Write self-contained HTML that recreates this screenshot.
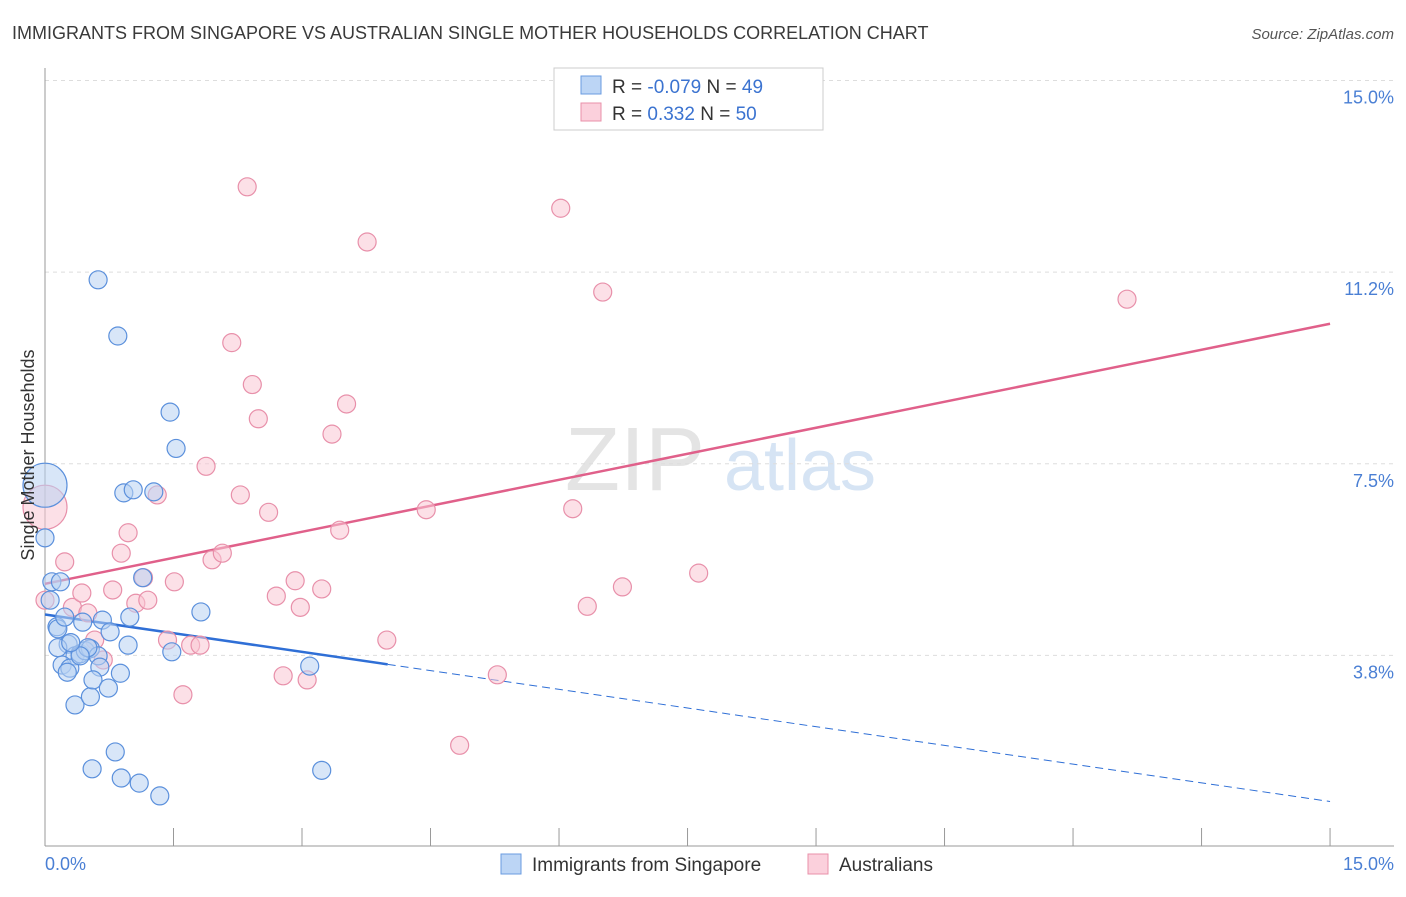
<!DOCTYPE html>
<html><head><meta charset="utf-8"><style>
body{margin:0;background:#fff;font-family:"Liberation Sans",sans-serif}
svg text{font-family:"Liberation Sans",sans-serif}
</style></head><body>
<svg width="1406" height="892">
<text x="12" y="39" font-size="18" fill="#3a3a3a">IMMIGRANTS FROM SINGAPORE VS AUSTRALIAN SINGLE MOTHER HOUSEHOLDS CORRELATION CHART</text>
<text x="1394" y="39" font-size="15" fill="#555" font-style="italic" text-anchor="end">Source: ZipAtlas.com</text>
<g><text x="635" y="490" font-size="90" fill="#e4e4e4" font-family="Liberation Serif" text-anchor="middle">ZIP</text><text x="800" y="490" font-size="72" fill="#d6e4f4" text-anchor="middle">atlas</text></g>
<g id="grid"></g><g id="axes"></g><g id="lines"></g><g id="pts"></g>
<text transform="translate(34,455) rotate(-90)" font-size="18" fill="#333" text-anchor="middle">Single Mother Households</text>
<text x="45" y="870" font-size="18" fill="#4a7fd4">0.0%</text>
<text x="1394" y="870" font-size="18" fill="#4a7fd4" text-anchor="end">15.0%</text>
<g>
<rect x="554" y="68" width="269" height="62" fill="#fff" stroke="#ccc"/>
<rect x="581" y="76" width="20" height="18" fill="#bcd5f5" stroke="#6a9be0"/>
<rect x="581" y="103" width="20" height="18" fill="#fbd0dc" stroke="#e890aa"/>
<text x="612" y="93" font-size="19" fill="#333">R = <tspan fill="#3b73d0">-0.079</tspan>   N = <tspan fill="#3b73d0">49</tspan></text>
<text x="612" y="120" font-size="19" fill="#333">R =   <tspan fill="#3b73d0">0.332</tspan>   N = <tspan fill="#3b73d0">50</tspan></text>
</g>
<g>
<rect x="501" y="854" width="20" height="20" fill="#bcd5f5" stroke="#6a9be0"/>
<text x="532" y="871" font-size="19" fill="#333">Immigrants from Singapore</text>
<rect x="808" y="854" width="20" height="20" fill="#fbd0dc" stroke="#e890aa"/>
<text x="839" y="871" font-size="19" fill="#333">Australians</text>
</g>
</svg>
<script>
const yTicks=[3.75,7.5,11.25,15];
const yTickLabels=["3.8%","7.5%","11.2%","15.0%"];
const blueX=[0,0,0.08,0.18,0.06,0.14,0.15,0.23,0.27,0.35,0.41,0.47,0.53,0.2,0.29,0.26,0.62,0.64,0.44,0.67,0.76,0.97,0.35,0.53,0.56,0.74,0.88,0.99,1.14,1.46,1.53,0.62,0.85,0.92,1.03,1.27,1.82,1.48,3.09,3.23,0.55,0.82,0.89,1.1,1.34,0.5,0.41,0.15,0.3];
const blueY=[7.08,6.05,5.19,5.19,4.83,4.31,4.27,4.5,3.97,3.74,3.78,3.84,3.88,3.56,3.5,3.42,3.74,3.52,4.4,4.44,4.21,3.95,2.78,2.94,3.27,3.11,3.4,4.5,5.27,8.51,7.8,11.1,10.0,6.93,6.99,6.95,4.6,3.82,3.54,1.5,1.53,1.86,1.35,1.25,1.0,3.9,3.74,3.9,4.0];
const blueR=[22,9,9,9,9,9,9,9,9,9,9,9,9,9,9,9,9,9,9,9,9,9,9,9,9,9,9,9,9,9,9,9,9,9,9,9,9,9,9,9,9,9,9,9,9,9,9,9,9];
const pinkX=[0,0,0.23,0.32,0.43,0.5,0.58,0.68,0.79,0.89,0.97,1.06,1.2,1.15,1.31,1.43,1.51,1.61,1.7,1.81,1.88,1.95,2.07,2.18,2.28,2.36,2.42,2.49,2.61,2.7,2.78,2.92,2.98,3.06,3.23,3.35,3.44,3.52,3.76,3.99,4.45,4.84,5.28,6.02,6.16,6.33,6.51,6.74,7.63,12.63];
const pinkY=[6.65,4.83,5.58,4.69,4.97,4.58,4.05,3.66,5.03,5.75,6.15,4.77,4.83,5.27,6.89,4.05,5.19,2.98,3.95,3.95,7.45,5.62,5.75,9.87,6.89,12.92,9.05,8.38,6.55,4.91,3.35,5.21,4.69,3.27,5.05,8.08,6.2,8.67,11.84,4.05,6.6,1.99,3.37,12.5,6.62,4.71,10.86,5.09,5.36,10.72];
const pinkR=[22,9,9,9,9,9,9,9,9,9,9,9,9,9,9,9,9,9,9,9,9,9,9,9,9,9,9,9,9,9,9,9,9,9,9,9,9,9,9,9,9,9,9,9,9,9,9,9,9,9];
const pinkTrend=[5.15,10.24];
const blueTrend=[4.55,0.89];
const blueSolidEnd=4.0;
const X=v=>45+v*85.67, Y=v=>847-v*51.1;
const NS="http://www.w3.org/2000/svg";
function mk(p,t,a){const e=document.createElementNS(NS,t);for(const k in a)e.setAttribute(k,a[k]);document.getElementById(p).appendChild(e);return e;}
yTicks.forEach((t,i)=>{
 let l=mk('grid','line',{x1:45,x2:1394,y1:Y(t),y2:Y(t),stroke:'#ddd','stroke-dasharray':'4,4'});
 
 
 let tx=mk('grid','text',{x:1394,y:Y(t)+23,'font-size':18,fill:'#4a7fd4','text-anchor':'end'});tx.textContent=yTickLabels[i];
 
 
});
let ax=mk('axes','line',{x1:45,x2:45,y1:68,y2:846,stroke:'#999'});


let bx=mk('axes','line',{x1:45,x2:1394,y1:846,y2:846,stroke:'#999'});


for(let i=0;i<=10;i++){let t=mk('axes','line',{x1:X(i*1.5),x2:X(i*1.5),y1:828,y2:846,stroke:'#999'});
 
 }
function draw(xs,ys,rs,fill,stroke,name){xs.forEach((x,i)=>{let c=mk('pts','circle',{cx:X(x),cy:Y(ys[i]),r:rs[i],fill:fill,'fill-opacity':0.55,stroke:stroke,'stroke-width':1.2});
 
 });}
draw(pinkX,pinkY,pinkR,'#f9c6d4','#e890aa','australians-point');
draw(blueX,blueY,blueR,'#b8d2f3','#5b90dc','singapore-point');
const bAt=x=>blueTrend[0]+(blueTrend[1]-blueTrend[0])*x/15;
let p=mk('lines','line',{x1:X(0),y1:Y(pinkTrend[0]),x2:X(15),y2:Y(pinkTrend[1]),stroke:'#e0608a','stroke-width':2.5});


let b1=mk('lines','line',{x1:X(0),y1:Y(bAt(0)),x2:X(blueSolidEnd),y2:Y(bAt(blueSolidEnd)),stroke:'#2f6fd6','stroke-width':2.5});


let b2=mk('lines','line',{x1:X(blueSolidEnd),y1:Y(bAt(blueSolidEnd)),x2:X(15),y2:Y(bAt(15)),stroke:'#2f6fd6','stroke-width':1,'stroke-dasharray':'8,5'});


</script>
</body></html>
